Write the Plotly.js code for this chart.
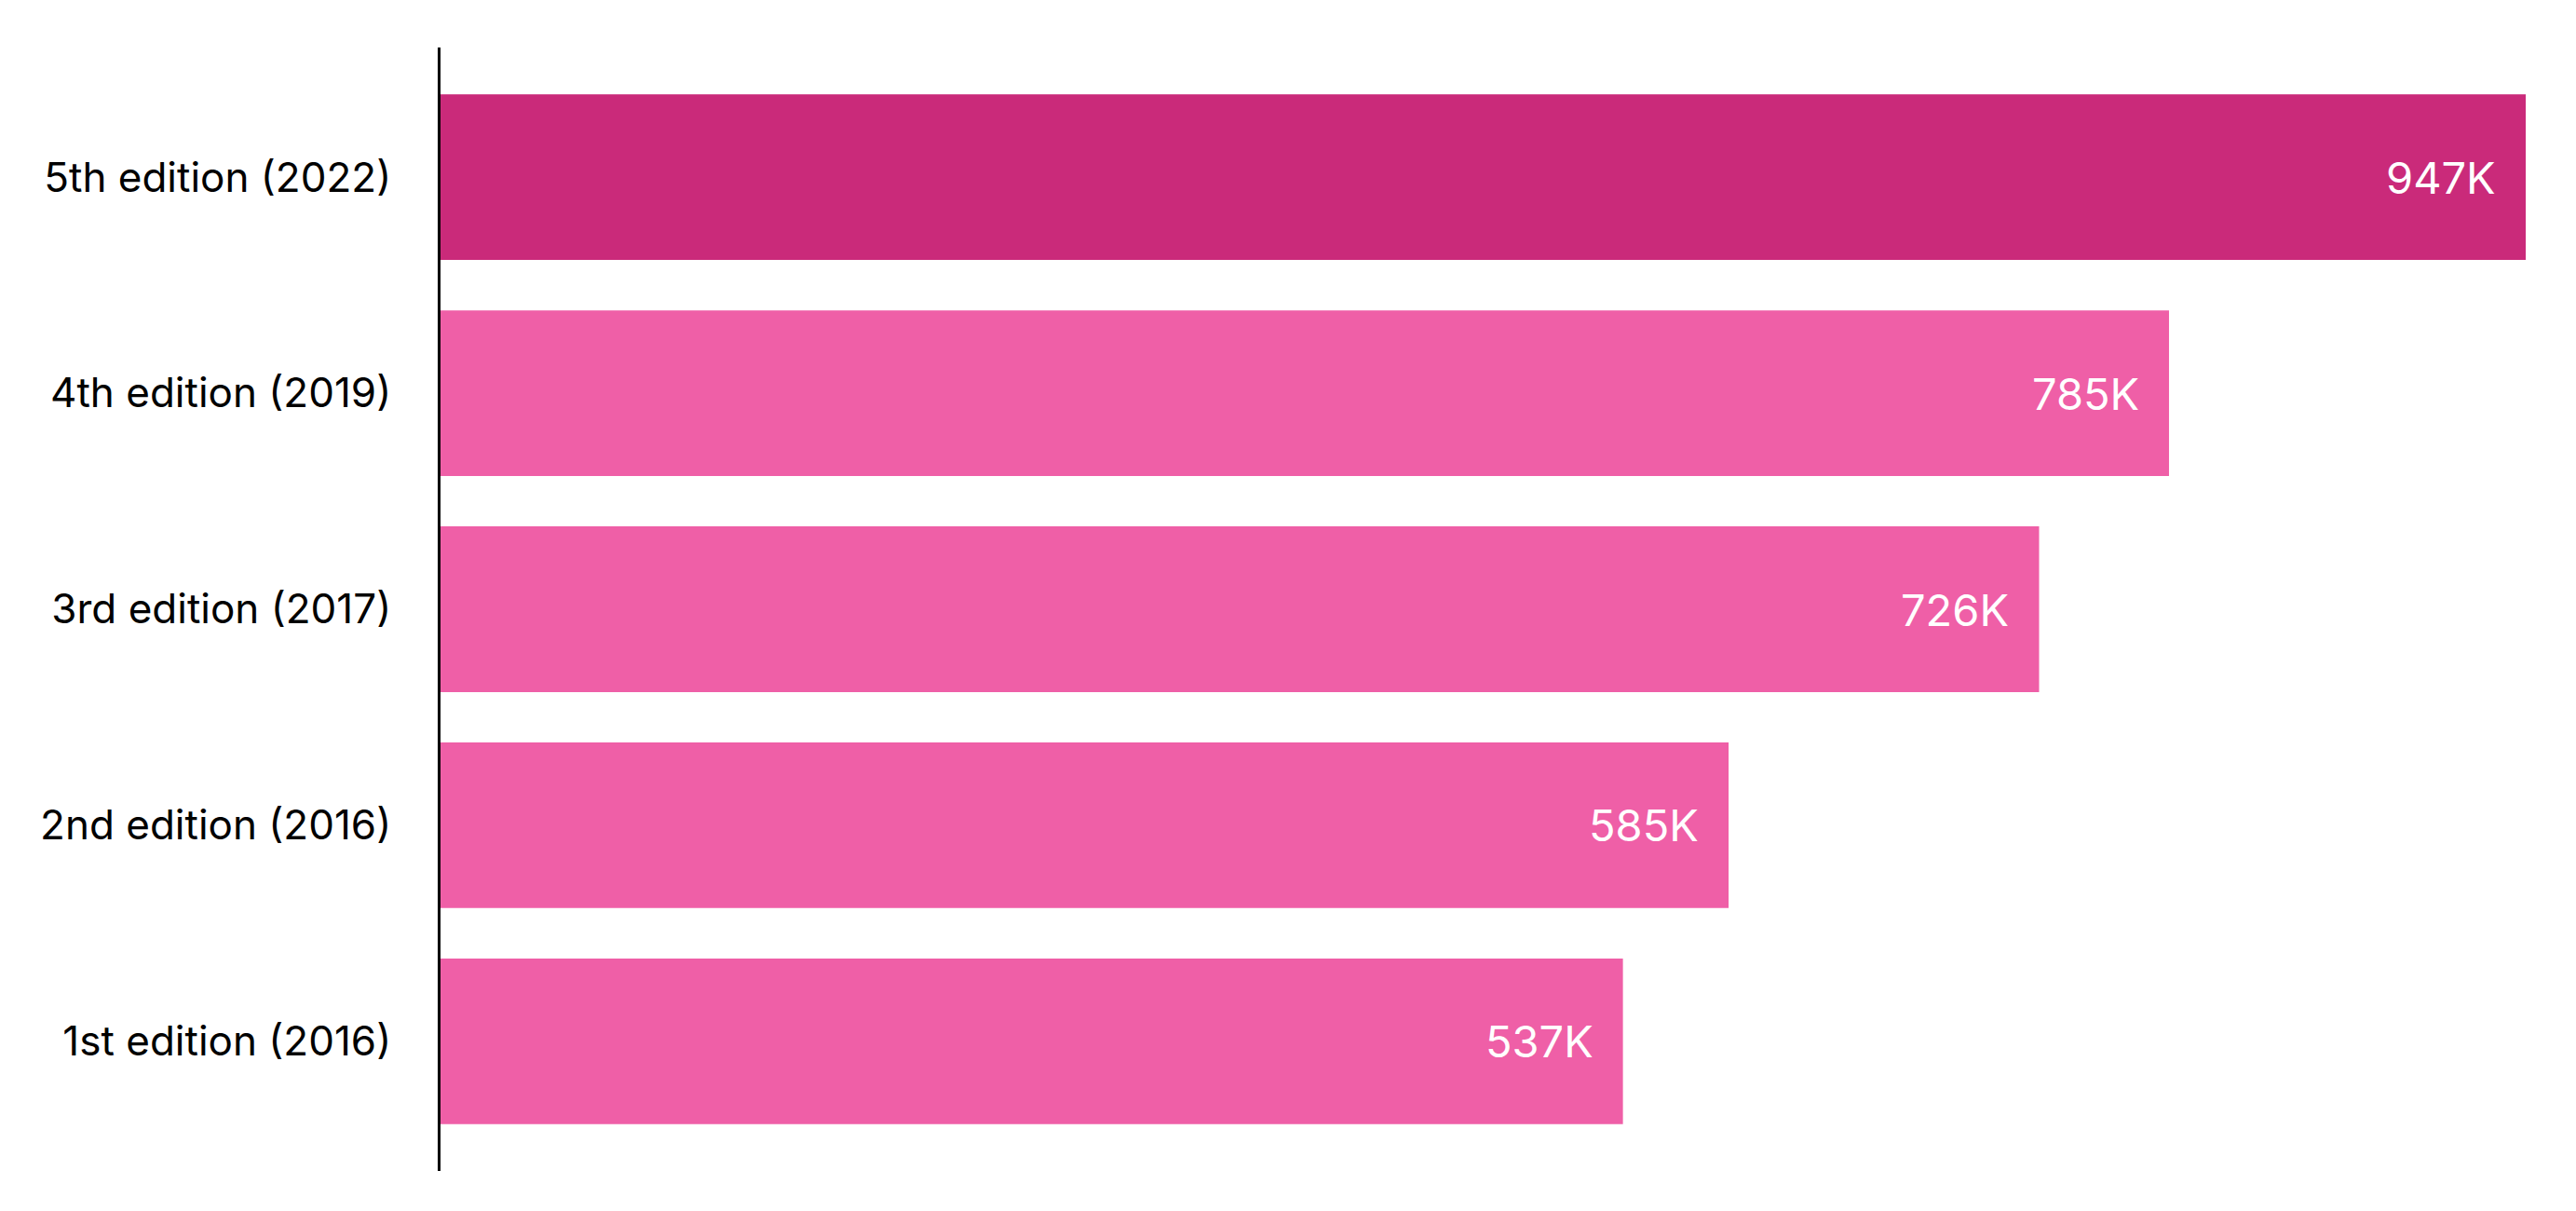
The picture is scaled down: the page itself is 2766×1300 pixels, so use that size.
<!DOCTYPE html>
<html>
<head>
<meta charset="utf-8">
<script src="https://cdn.plot.ly/plotly-3.0.1.min.js"></script>
<style>html,body{margin:0;padding:0;background:#fff;}#chart{width:2766px;height:1300px;}</style>
</head>
<body>
<div id="chart"></div>
<script>
const categories = ["1st edition (2016)", "2nd edition (2016)", "3rd edition (2017)", "4th edition (2019)", "5th edition (2022)"];
const values = [537, 585, 726, 785, 947];
const valueLabels = ["537K", "585K", "726K", "785K", "947K"];
const barColors = ["#ef5fa7", "#ef5fa7", "#ef5fa7", "#ef5fa7", "#ca2a7a"];

const trace = {
  type: "bar",
  orientation: "h",
  x: values,
  y: categories,
  marker: {color: barColors, line: {width: 0}},
  hoverinfo: "skip"
};

const annotations = categories.map((c, i) => ({
  x: values[i], y: c, xref: "x", yref: "y",
  text: valueLabels[i], showarrow: false,
  xanchor: "right", yanchor: "middle", xshift: -30,
  font: {family: "Inter, sans-serif", size: 47, color: "#ffffff"}
}));

const layout = {
  width: 2766, height: 1300,
  margin: {l: 473, r: 54, t: 51, b: 43},
  paper_bgcolor: "#ffffff", plot_bgcolor: "#ffffff",
  showlegend: false,
  bargap: 0.233,
  xaxis: {range: [0, 947], visible: false, fixedrange: true},
  yaxis: {
    type: "category",
    range: [-0.6, 4.6],
    showline: true, linecolor: "#000000", linewidth: 3,
    showgrid: false, zeroline: false, ticks: "",
    ticklabelstandoff: 41,
    tickfont: {family: "Inter, sans-serif", size: 44, color: "#000000"},
    fixedrange: true
  },
  annotations: annotations
};

Plotly.newPlot("chart", [trace], layout, {displayModeBar: false, staticPlot: true});
</script>
</body>
</html>
